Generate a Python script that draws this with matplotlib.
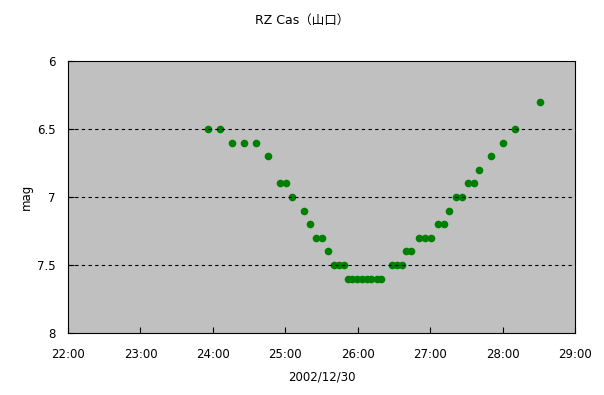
import matplotlib
matplotlib.use('Agg')
import matplotlib.pyplot as plt

plt.rcParams['font.family'] = ['DejaVu Sans', 'Noto Sans CJK JP']

# observation time (hours, 22 = 22:00 on 2002/12/30) and magnitude
hours = [23.93, 24.10, 24.26, 24.43, 24.59, 24.76, 24.92, 25.01, 25.09, 25.26,
         25.34, 25.42, 25.51, 25.59, 25.67, 25.74, 25.81,
         25.86, 25.92, 25.99, 26.06, 26.13, 26.19, 26.26, 26.32,
         26.47, 26.54, 26.61, 26.67, 26.73, 26.85, 26.93, 27.01,
         27.11, 27.19, 27.26, 27.35, 27.44, 27.52, 27.61, 27.68,
         27.84, 28.01, 28.17, 28.51]
mags = [6.5, 6.5, 6.6, 6.6, 6.6, 6.7, 6.9, 6.9, 7.0, 7.1,
        7.2, 7.3, 7.3, 7.4, 7.5, 7.5, 7.5,
        7.6, 7.6, 7.6, 7.6, 7.6, 7.6, 7.6, 7.6,
        7.5, 7.5, 7.5, 7.4, 7.4, 7.3, 7.3, 7.3,
        7.2, 7.2, 7.1, 7.0, 7.0, 6.9, 6.9, 6.8,
        6.7, 6.6, 6.5, 6.3]

x_ticks = [22, 23, 24, 25, 26, 27, 28, 29]
x_labels = ['22:00', '23:00', '24:00', '25:00', '26:00', '27:00', '28:00', '29:00']
y_ticks = [6, 6.5, 7, 7.5, 8]
y_labels = ['6', '6.5', '7', '7.5', '8']

fig = plt.figure(figsize=(6.04, 3.95), dpi=100)
ax = fig.add_axes([0.1126, 0.157, 0.8394, 0.6886])
ax.set_facecolor('#c0c0c0')

ax.plot(hours, mags, 'o', color='#008000', markersize=5.5, markeredgewidth=0)

ax.set_xlim(22, 29)
ax.set_ylim(8, 6)
ax.set_xticks(x_ticks)
ax.set_xticklabels(x_labels)
ax.set_yticks(y_ticks)
ax.set_yticklabels(y_labels)
ax.tick_params(direction='in', length=4, width=0.8, labelsize=8.5)
ax.tick_params(axis='x', pad=11)
ax.tick_params(axis='y', pad=9)

for y in [6.5, 7, 7.5]:
    ax.axhline(y, color='black', linestyle=(0, (3, 3)), linewidth=0.8)

for s in ax.spines.values():
    s.set_linewidth(0.8)

fig.text(0.5, 0.949, 'RZ Cas（山口）', fontsize=9, ha='center', va='center')
ax.set_xlabel('2002/12/30', fontsize=8.5, labelpad=7)
ax.set_ylabel('mag', fontsize=8.5, labelpad=3)

fig.savefig('out.png', dpi=100)
